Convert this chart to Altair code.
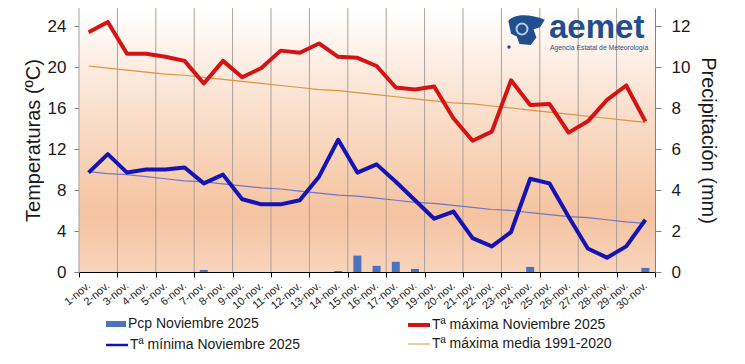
import altair as alt
import pandas as pd

# ---------------- data ----------------
days = list(range(1, 31))
day_labels = [f"{d}-nov." for d in days]
tmax = [23.4, 24.4, 21.3, 21.3, 21.0, 20.6, 18.4, 20.6, 19.0, 19.9,
        21.6, 21.4, 22.3, 21.0, 20.9, 20.1, 18.0, 17.8, 18.1, 15.0,
        12.8, 13.7, 18.7, 16.3, 16.4, 13.6, 14.7, 16.8, 18.2, 14.7]
tmin = [9.7, 11.5, 9.7, 10.0, 10.0, 10.2, 8.65, 9.5, 7.1, 6.6,
        6.6, 7.0, 9.3, 12.9, 9.7, 10.5, 8.8, 7.0, 5.2, 5.9,
        3.3, 2.5, 3.9, 9.1, 8.65, 5.4, 2.3, 1.4, 2.5, 5.1]
tmax_norm = [20.1, 19.9, 19.7, 19.5, 19.3, 19.2, 19.0, 18.8, 18.6, 18.4,
             18.2, 18.0, 17.8, 17.7, 17.5, 17.3, 17.1, 16.9, 16.7, 16.5,
             16.4, 16.2, 16.0, 15.8, 15.6, 15.4, 15.2, 15.0, 14.8, 14.6]
tmin_norm = [9.8, 9.6, 9.5, 9.3, 9.1, 8.9, 8.8, 8.6, 8.4, 8.2,
             8.1, 7.9, 7.7, 7.5, 7.4, 7.2, 7.0, 6.8, 6.7, 6.5,
             6.3, 6.1, 6.0, 5.8, 5.6, 5.4, 5.3, 5.1, 4.9, 4.75]
pcp = [0, 0, 0, 0, 0, 0, 0.1, 0, 0, 0,
       0, 0, 0, 0.05, 0.8, 0.3, 0.5, 0.15, 0, 0,
       0, 0, 0, 0.25, 0, 0, 0, 0, 0, 0.2]
temp_ticks = [0, 4, 8, 12, 16, 20, 24]
pcp_ticks = [0, 2, 4, 6, 8, 10, 12]
legend_labels = ["Pcp Noviembre 2025", "Tª máxima Noviembre 2025",
                 "Tª mínima Noviembre 2025", "Tª máxima media 1991-2020"]

df = pd.DataFrame({"day": days, "label": day_labels, "tmax": tmax, "tmin": tmin,
                   "tmax_norm": tmax_norm, "tmin_norm": tmin_norm, "pcp": pcp})
one = pd.DataFrame({"a": [0]})

W, H = 576, 264
FONT = "Liberation Sans"
TXT = "#1a1a1a"

x_values = sorted(days + [d - 0.5 for d in days if d % 2 == 1] + [30.5])
x_scale = alt.Scale(domain=[0.5, 30.5], nice=False, zero=False, padding=0)
x_axis = alt.Axis(
    values=x_values, title=None, grid=False,
    labelExpr="datum.value % 1 == 0 ? datum.value + '-nov.' : ''",
    labelAngle=-40, labelAlign="right", labelBaseline="middle",
    labelFontSize=11, labelFont=FONT, labelColor=TXT, labelPadding=7,
    labelOverlap=False, labelFlush=False, labelBound=False,
    tickSize=5, tickColor="#000000",
    tickOpacity={"condition": {"test": "datum.value % 1 != 0", "value": 1}, "value": 0},
    domainColor="#000000", domainWidth=1.2,
)

temp_axis = alt.Axis(
    orient="left", values=temp_ticks, title="Temperaturas (ºC)", grid=False,
    titleFont=FONT, titleFontSize=20, titleFontWeight="normal", titleColor=TXT,
    titlePadding=4, labelFont=FONT, labelFontSize=17, labelColor=TXT,
    labelPadding=8, tickSize=5, tickColor="#808080", domainColor="#808080",
)
temp_scale = alt.Scale(domain=[0, 25.76], nice=False, zero=True)

pcp_axis = alt.Axis(
    orient="right", values=pcp_ticks, title="Precipitación (mm)", grid=False,
    titleFont=FONT, titleFontSize=20, titleFontWeight="normal", titleColor=TXT,
    titlePadding=8, labelFont=FONT, labelFontSize=17, labelColor=TXT,
    labelPadding=10, tickSize=6, tickColor="#808080", domainColor="#808080",
)
pcp_scale = alt.Scale(domain=[0, 12.88], nice=False, zero=True)

# background gradient
bg = alt.Chart(one).mark_rect(
    color=alt.LinearGradient(
        gradient="linear",
        stops=[alt.GradientStop(color="#ffffff", offset=0),
               alt.GradientStop(color="#fbe2d0", offset=0.35),
               alt.GradientStop(color="#f5c3a0", offset=0.78),
               alt.GradientStop(color="#f8d4bc", offset=1)],
        x1=0, x2=0, y1=0, y2=1),
).encode(x=alt.value(0), x2=alt.value(W), y=alt.value(0), y2=alt.value(H))

grid = alt.Chart(df).transform_filter("datum.day % 2 == 1").transform_calculate(
    day="datum.day - 0.5").mark_rule(color="#a8a09c", strokeWidth=1).encode(
    x=alt.X("day:Q", scale=x_scale, axis=x_axis), y=alt.value(0), y2=alt.value(H))

bars = alt.Chart(df).mark_bar(size=8, color="#4a72c0").encode(
    x=alt.X("day:Q", scale=x_scale, axis=x_axis),
    y=alt.Y("pcp:Q", scale=pcp_scale, axis=pcp_axis))


def tline(field, color, width):
    return alt.Chart(df).mark_line(color=color, strokeWidth=width, strokeJoin="round").encode(
        x=alt.X("day:Q", scale=x_scale, axis=x_axis),
        y=alt.Y(f"{field}:Q", scale=temp_scale, axis=temp_axis))


temps = alt.layer(
    tline("tmax_norm", "#e0913e", 1.2),
    tline("tmin_norm", "#7076c8", 1.2),
    tline("tmin", "#1414b4", 4),
    tline("tmax", "#d41414", 4),
)

# legend (drawn manually)
def leg_rect(x, y, label):
    sw = alt.Chart(one).mark_rect(color="#4a72c0").encode(
        x=alt.value(x), x2=alt.value(x + 20), y=alt.value(y - 3), y2=alt.value(y + 3))
    tx = alt.Chart(one).mark_text(text=label, align="left", baseline="middle",
                                  font=FONT, fontSize=14, color=TXT).encode(
        x=alt.value(x + 22), y=alt.value(y))
    return sw + tx


def leg_line(x, y, label, color, width):
    sw = alt.Chart(one).mark_rule(color=color, strokeWidth=width).encode(
        x=alt.value(x), x2=alt.value(x + 22), y=alt.value(y))
    tx = alt.Chart(one).mark_text(text=label, align="left", baseline="middle",
                                  font=FONT, fontSize=14, color=TXT).encode(
        x=alt.value(x + 24), y=alt.value(y))
    return sw + tx


legend = alt.layer(
    leg_rect(27, 316, legend_labels[0]),
    leg_line(329, 317, legend_labels[1], "#d41414", 4),
    leg_line(27, 337, legend_labels[2], "#1414b4", 2.5),
    leg_line(329, 336, legend_labels[3], "#e0913e", 1),
)

# logo
logo_shape = ("M-1,-0.55 C-0.6,-0.95 0.2,-0.9 0.95,-0.6 L0.7,-0.2 L0.35,-0.1 "
              "L0.5,0.35 L0.2,0.75 L-0.4,0.7 L-0.55,0.3 L-0.85,0.15 Z")
logo = alt.layer(
    alt.Chart(one).mark_point(shape=logo_shape, filled=True, color="#1f4f8f", size=1400, opacity=1).encode(
        x=alt.value(448), y=alt.value(23)),
    alt.Chart(one).mark_point(shape="circle", filled=False, color="#ffffff", size=120, strokeWidth=2).encode(
        x=alt.value(443), y=alt.value(21)),
    alt.Chart(one).mark_point(shape="circle", filled=True, color="#1f4f8f", size=12, opacity=1).encode(
        x=alt.value(430), y=alt.value(39)),
    alt.Chart(one).mark_text(text="aemet", align="left", baseline="alphabetic", font=FONT,
                             fontSize=33, fontWeight="bold", color="#1f4f8f").encode(
        x=alt.value(470), y=alt.value(30)),
    alt.Chart(one).mark_text(text="Agencia Estatal de Meteorología", align="left", baseline="top",
                             font=FONT, fontSize=6.8, color="#1f4f8f").encode(
        x=alt.value(471), y=alt.value(37)),
)

main = alt.layer(bg, grid, bars, temps).resolve_scale(y="independent")

chart = alt.layer(main, legend, logo).properties(
    width=W, height=H,
    autosize=alt.AutoSizeParams(type="none"),
    padding={"left": 71, "top": 0, "right": 82, "bottom": 84},
).configure_view(stroke="#9a9a9a", strokeWidth=1).configure(background="#ffffff")

chart.save("out.html", embed_options={"renderer": "svg", "actions": False})
